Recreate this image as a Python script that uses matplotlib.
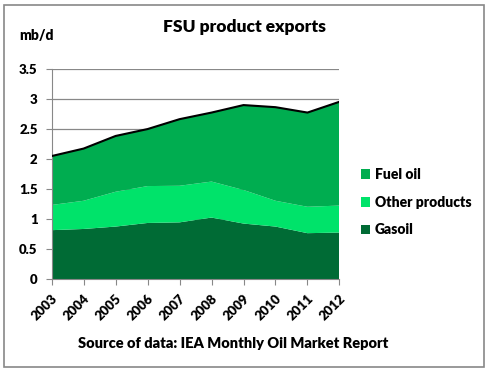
import matplotlib.pyplot as plt
from matplotlib.patches import Rectangle

years = [2003, 2004, 2005, 2006, 2007, 2008, 2009, 2010, 2011, 2012]
gasoil = [0.82, 0.84, 0.88, 0.94, 0.95, 1.03, 0.93, 0.88, 0.77, 0.78]
other_products = [0.42, 0.47, 0.58, 0.615, 0.61, 0.60, 0.56, 0.43, 0.44, 0.45]
fuel_oil = [0.815, 0.87, 0.93, 0.95, 1.11, 1.15, 1.415, 1.56, 1.57, 1.73]

plt.rcParams['font.family'] = ['Lato', 'DejaVu Sans']
plt.rcParams['font.weight'] = 'heavy'

fig = plt.figure(figsize=(4.87, 3.71), dpi=100)
ax = fig.add_axes([0.106, 0.247, 0.591, 0.566])

colors = ['#006B35', '#00E36A', '#00AD50']
ax.stackplot(years, gasoil, other_products, fuel_oil, colors=colors,
             labels=['Gasoil', 'Other products', 'Fuel oil'], zorder=2)
total = [g + o + f for g, o, f in zip(gasoil, other_products, fuel_oil)]
ax.plot(years, total, color='black', lw=1.5, zorder=3)

ax.set_xlim(2003, 2012)
ax.set_ylim(0, 3.5)
ax.set_yticks([0, 0.5, 1, 1.5, 2, 2.5, 3, 3.5])
ax.set_yticklabels(['0', '0.5', '1', '1.5', '2', '2.5', '3', '3.5'])
ax.set_xticks(years)
ax.set_xticklabels([str(y) for y in years], rotation=45, ha='right',
                   rotation_mode='anchor')
ax.grid(axis='y', color='#888888', lw=0.9, zorder=1)
ax.tick_params(axis='both', labelsize=9.5, color='#888888', length=4)
ax.tick_params(axis='y', pad=6)
ax.tick_params(axis='x', pad=5)
for side in ['top', 'right']:
    ax.spines[side].set_visible(False)
ax.spines['left'].set_color('#888888')
ax.spines['bottom'].set_color('#888888')

h, l = ax.get_legend_handles_labels()
fig.legend(h[::-1], l[::-1], loc='center left', bbox_to_anchor=(0.715, 0.455),
           frameon=False, fontsize=10, handlelength=0.7, handleheight=0.7,
           handletextpad=0.3, labelspacing=1.05)

fig.text(0.503, 0.927, 'FSU product exports', ha='center', va='center',
         fontsize=12.5)
fig.text(0.04, 0.903, 'mb/d', ha='left', va='center', fontsize=10)
fig.text(0.478, 0.075, 'Source of data: IEA Monthly Oil Market Report',
         ha='center', va='center', fontsize=10.5)

fig.patches.append(Rectangle((0.009, 0.012), 0.984, 0.975,
                             transform=fig.transFigure, fill=False,
                             edgecolor='#888888', lw=1.2))

fig.savefig('out.png', dpi=100)
